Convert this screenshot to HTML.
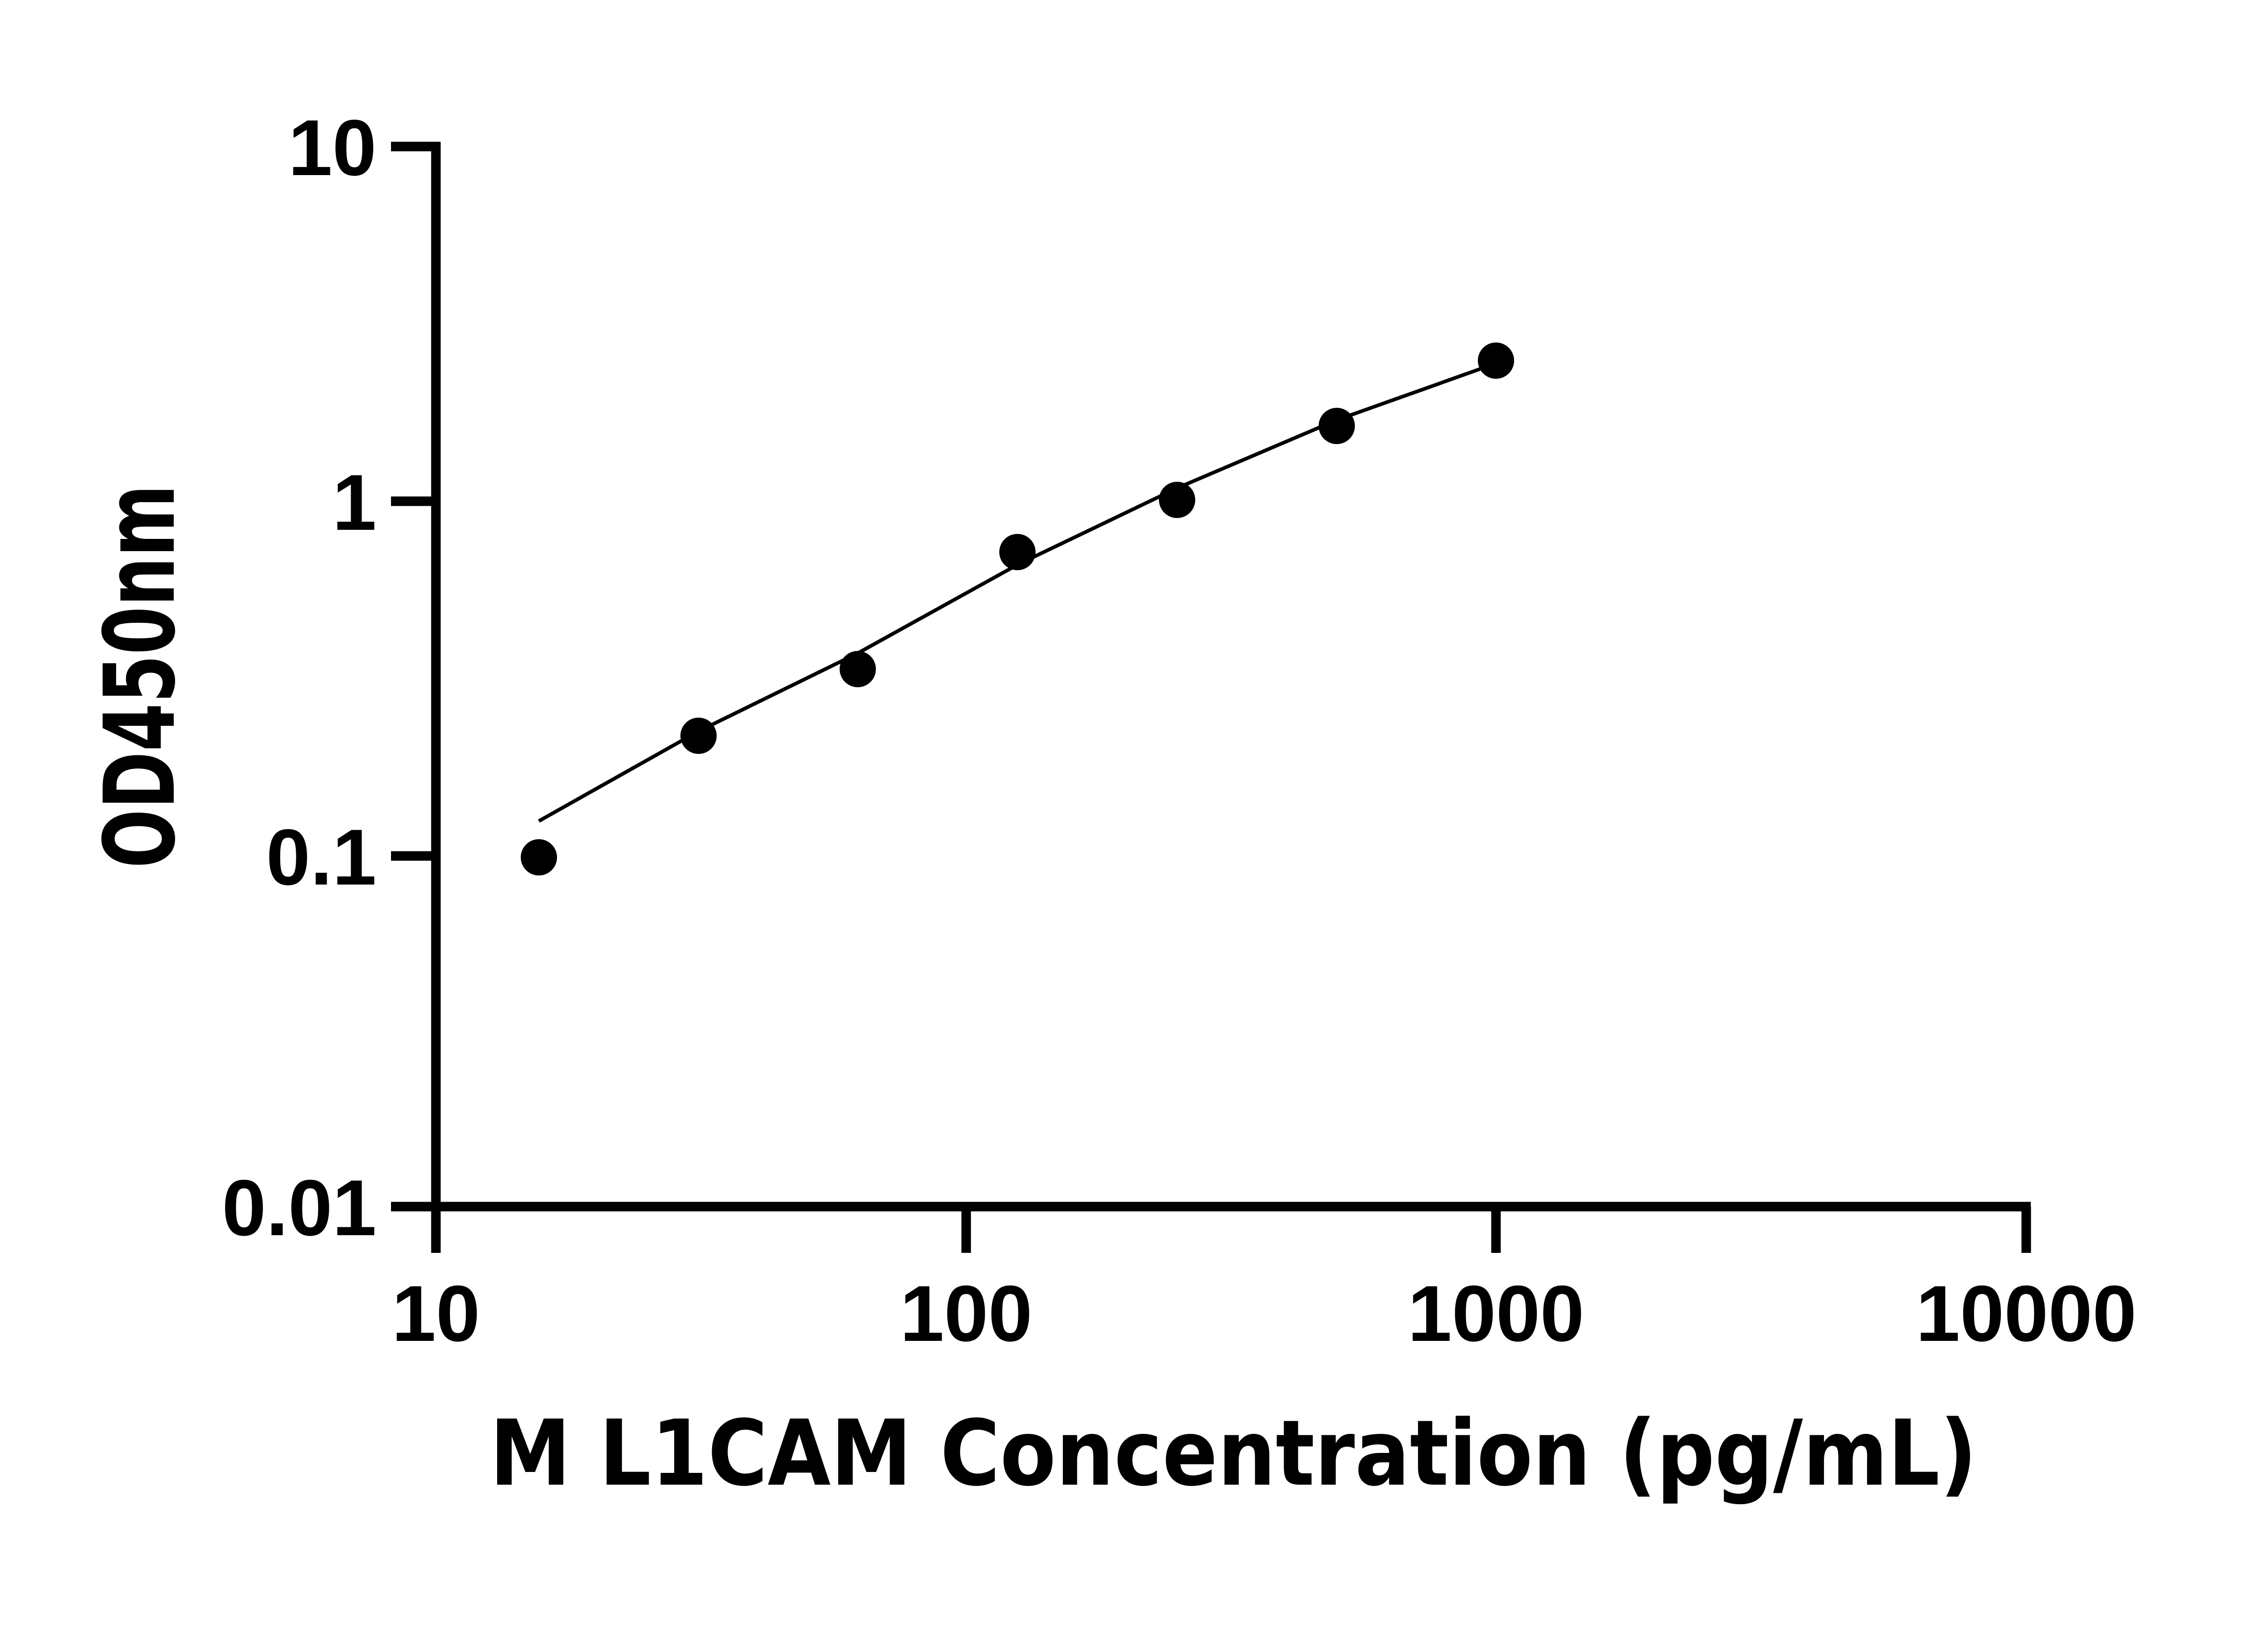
<!DOCTYPE html>
<html><head><meta charset="utf-8"><style>html,body{margin:0;padding:0;background:#fff}svg{display:block}
.t{font-family:"Liberation Sans","Arimo",Arial,Helvetica,sans-serif;font-weight:bold}
.d{font-family:"DejaVu Sans",sans-serif;font-weight:bold}</style></head>
<body>
<svg width="5142" height="3600" viewBox="0 0 5142 3600" xmlns="http://www.w3.org/2000/svg">
<rect width="5142" height="3600" fill="#fff"/>
<g stroke="#000" stroke-width="21" fill="none" stroke-linecap="butt">
<line x1="961" y1="313" x2="961" y2="2670"/>
<line x1="951" y1="2660" x2="4477" y2="2660"/>
<line x1="862" y1="323" x2="971" y2="323"/>
<line x1="862" y1="1105" x2="971" y2="1105"/>
<line x1="862" y1="1887" x2="971" y2="1887"/>
<line x1="862" y1="2660" x2="971" y2="2660"/>
<line x1="961" y1="2660" x2="961" y2="2762"/>
<line x1="2130" y1="2660" x2="2130" y2="2762"/>
<line x1="3298" y1="2660" x2="3298" y2="2762"/>
<line x1="4467" y1="2660" x2="4467" y2="2762"/>
</g>
<g class="t" font-size="175" fill="#000">
<text x="830" y="386" text-anchor="end">10</text>
<text x="830" y="1168" text-anchor="end">1</text>
<text x="830" y="1950" text-anchor="end">0.1</text>
<text x="830" y="2723" text-anchor="end">0.01</text>
<text x="961" y="2956" text-anchor="middle">10</text>
<text x="2130" y="2956" text-anchor="middle">100</text>
<text x="3298" y="2956" text-anchor="middle">1000</text>
<text x="4467" y="2956" text-anchor="middle">10000</text>
</g>
<text class="d" x="2719" y="3273" text-anchor="middle" font-size="200" textLength="3279" lengthAdjust="spacingAndGlyphs">M L1CAM Concentration (pg/mL)</text>
<text class="d" transform="translate(383,1491) rotate(-90)" text-anchor="middle" font-size="215" textLength="846" lengthAdjust="spacingAndGlyphs">OD450nm</text>
<polyline points="1188,1810 1540,1612 1891,1440 2243,1245 2595,1076 2947,926 3298,801" fill="none" stroke="#000" stroke-width="8"/>
<g fill="#000">
<circle cx="1188" cy="1890" r="40"/>
<circle cx="1540" cy="1622" r="40"/>
<circle cx="1891" cy="1475" r="40"/>
<circle cx="2243" cy="1217" r="40"/>
<circle cx="2595" cy="1102" r="40"/>
<circle cx="2947" cy="939" r="40"/>
<circle cx="3298" cy="795" r="40"/>
</g>
</svg>
</body></html>
